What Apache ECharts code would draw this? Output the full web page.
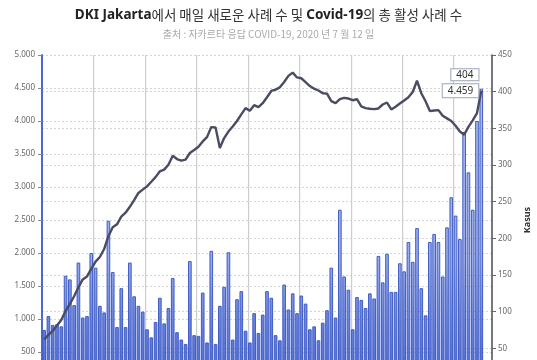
<!DOCTYPE html>
<html><head><meta charset="utf-8">
<script src="https://cdn.jsdelivr.net/npm/echarts@6/dist/echarts.min.js"></script>
<style>html,body{margin:0;padding:0;background:#fff;overflow:hidden}#c{width:537px;height:400px}</style>
</head><body><div id="c"></div><script>
const categories = [
"4/1","4/2","4/3","4/4","4/5","4/6","4/7","4/8","4/9","4/10","4/11","4/12","4/13","4/14","4/15","4/16","4/17","4/18","4/19","4/20","4/21","4/22","4/23","4/24","4/25","4/26","4/27","4/28","4/29","4/30",
"5/1","5/2","5/3","5/4","5/5","5/6","5/7","5/8","5/9","5/10","5/11","5/12","5/13","5/14","5/15","5/16","5/17","5/18","5/19","5/20","5/21","5/22","5/23","5/24","5/25","5/26","5/27","5/28","5/29","5/30","5/31",
"6/1","6/2","6/3","6/4","6/5","6/6","6/7","6/8","6/9","6/10","6/11","6/12","6/13","6/14","6/15","6/16","6/17","6/18","6/19","6/20","6/21","6/22","6/23","6/24","6/25","6/26","6/27","6/28","6/29","6/30",
"7/1","7/2","7/3","7/4","7/5","7/6","7/7","7/8","7/9","7/10","7/11","7/12","7/13","7/14"];
const dailyCases = [
75,94,82,83,80,149,144,109,167,92,94,180,160,108,99,224,154,79,132,79,167,121,108,100,76,65,86,119,84,105,
146,72,62,56,169,68,67,126,58,183,56,108,134,181,62,117,128,74,58,98,71,96,128,119,68,61,137,103,125,98,122,
111,76,80,61,85,102,160,92,239,148,130,76,120,116,105,125,118,176,140,179,127,127,166,155,195,168,214,132,95,
195,206,195,148,215,256,231,199,345,290,239,360,404,null,null];
const activeCases = [
690,760,820,900,985,1120,1230,1345,1480,1600,1645,1760,1870,1940,2060,2255,2390,2435,2550,2610,2700,2800,2910,2960,3010,3080,3150,3238,3263,3338,
3474,3424,3399,3414,3515,3560,3610,3691,3756,3908,3902,3590,3741,3840,3917,4000,4100,4195,4154,4240,4210,4270,4360,4455,4475,4510,4590,4683,4733,4660,4648,
4590,4530,4490,4462,4420,4415,4300,4270,4330,4350,4340,4315,4330,4220,4195,4185,4180,4190,4250,4280,4175,4215,4265,4310,4360,4440,4610,4421,4300,4150,
4160,4165,4080,4040,4000,3927,3840,3792,3910,4010,4120,4459,null,null];
const gridLineCategoryIndex = [12, 24, 36, 48, 60, 72, 84, 96];
const titleParts = ["DKI Jakarta", "에서 매일 새로운 사례 수 및 ", "Covid-19", "의 총 활성 사례 수"];
const subtitleText = "출처 : 자카르타 응답 COVID-19, 2020 년 7 월 12 일";
const rightAxisName = "Kasus";

function fmt(v){ return String(v).replace(/\B(?=(\d{3})+(?!\d))/g, '.'); }
const font = "'Noto Sans','Noto Sans CJK KR',sans-serif";
const last = dailyCases.filter(v => v != null).length - 1;
const boxLabel = {fontSize: 10, color: '#333', fontFamily: font,
  backgroundColor: '#fff', borderColor: '#9aa4b8', borderWidth: 1};

const barData = dailyCases.map((v, i) => i === last ? {
  value: v,
  label: Object.assign({show: true, position: [-1, -14], align: 'right', verticalAlign: 'middle',
    formatter: fmt(v), padding: [1, 5, 0, 5]}, boxLabel)
} : v);
const lineData = activeCases.map((v, i) => i === last ? {
  value: v,
  label: Object.assign({show: true, position: 'left', distance: 3, formatter: fmt(v),
    padding: [2, 5, 1, 5]}, boxLabel)
} : v);

const chart = echarts.init(document.getElementById('c'), null, {renderer: 'canvas'});
chart.setOption({
  animation: false,
  backgroundColor: '#fff',
  title: {
    text: '{b|' + titleParts[0] + '}{n|' + titleParts[1] + '}{b|' + titleParts[2] + '}{n|' + titleParts[3] + '}',
    subtext: subtitleText,
    left: 'center', top: 3, itemGap: 8,
    textStyle: {rich: {
      b: {fontSize: 13.5, fontWeight: 'bold', color: '#222', fontFamily: font},
      n: {fontSize: 13.5, fontWeight: 'normal', color: '#333', fontFamily: "'Noto Sans CJK KR',sans-serif"}
    }},
    subtextStyle: {fontSize: 10, color: '#aaa', fontFamily: "'Noto Sans CJK KR',sans-serif"}
  },
  grid: {left: 42, top: 55, width: 450, height: 330, outerBoundsMode: 'none'},
  xAxis: {
    type: 'category', data: categories, boundaryGap: true,
    axisLine: {show: false}, axisTick: {show: false}, axisLabel: {show: false},
    splitLine: {show: false}
  },
  yAxis: [{
    type: 'value', min: 0, max: 5000, interval: 500, position: 'left',
    axisLine: {show: true, lineStyle: {color: '#4d69cf', width: 2}},
    axisTick: {show: true, length: 4, lineStyle: {color: '#888', width: 1}},
    axisLabel: {formatter: fmt, fontSize: 8, color: '#666', margin: 7, fontFamily: font},
    splitLine: {show: true, lineStyle: {color: '#d4d4d4', type: [2, 2], width: 1}}
  }, {
    type: 'value', min: 0, max: 450, interval: 50, position: 'right',
    name: rightAxisName, nameLocation: 'middle', nameGap: 26,
    nameTextStyle: {fontSize: 9, fontWeight: 'bold', color: '#333', fontFamily: font},
    axisLine: {show: true, lineStyle: {color: '#4a4a55', width: 1.5}},
    axisTick: {show: true, length: 4, lineStyle: {color: '#666', width: 1}},
    axisLabel: {fontSize: 8, color: '#666', margin: 6, fontFamily: font},
    splitLine: {show: true, lineStyle: {color: '#d4d4d4', type: [2, 2], width: 1}}
  }],
  series: [{
    type: 'custom', xAxisIndex: 0, yAxisIndex: 1, z: 1, silent: true, clip: false,
    data: gridLineCategoryIndex.map(v => [v, 0]),
    encode: {x: 0, y: 1},
    renderItem: function (params, api) {
      const bw = api.size([1, 0])[0];
      const x = Math.round(api.coord([api.value(0), 0])[0] - bw / 2) + 0.5;
      const cs = params.coordSys;
      return {type: 'rect', shape: {x: x - 0.5, y: cs.y, width: 1.2, height: cs.height},
        style: {fill: '#cdcdcd'}};
    }
  }, {
    type: 'bar', yAxisIndex: 1, data: barData, barCategoryGap: '15%', z: 2,
    itemStyle: {
      color: {type: 'linear', x: 0, y: 55, x2: 0, y2: 385, global: true, colorStops: [
        {offset: 0, color: '#b2bff0'}, {offset: 0.62, color: '#9aabea'},
        {offset: 0.8, color: '#6d85de'}, {offset: 1, color: '#4a66d4'}]},
      borderColor: '#3f5cc4', borderWidth: 1
    }
  }, {
    type: 'line', yAxisIndex: 0, data: lineData, symbol: 'circle', symbolSize: 0, showSymbol: true,
    itemStyle: {color: '#4a4c63'},
    lineStyle: {color: '#4a4c63', width: 2.4}, z: 5
  }]
});
</script></body></html>
